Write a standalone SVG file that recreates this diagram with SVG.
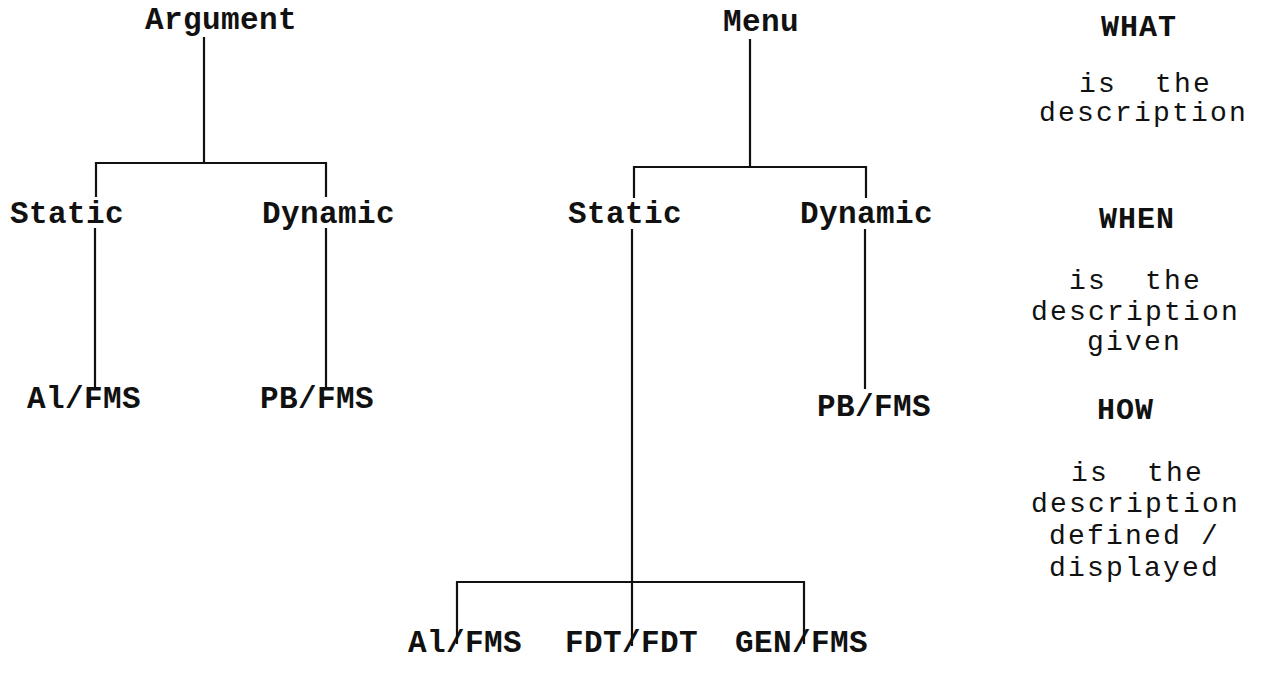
<svg xmlns="http://www.w3.org/2000/svg" width="1267" height="677" viewBox="0 0 1267 677">
<style>
.lbl{font-family:"Liberation Mono","DejaVu Sans Mono",monospace;font-size:31px;font-weight:bold;letter-spacing:0.4px;fill:#111}
.hd{font-family:"Liberation Mono","DejaVu Sans Mono",monospace;font-size:30px;font-weight:bold;letter-spacing:1px;fill:#111}
.ds{font-family:"Liberation Mono","DejaVu Sans Mono",monospace;font-size:28px;letter-spacing:2.2px;fill:#111;white-space:pre}
.ln{stroke:#111;stroke-width:2.2;fill:none;stroke-linecap:square}
</style>
<rect width="1267" height="677" fill="#fff"/>
<g id="connectors" class="ln">
<path d="M204 38V163M96 163H326M96 163V196M326 163V196M95 229V386M326 229V386"/>
<path d="M750 40V167M634 167H866M634 167V197M866 167V197M632 230V645M457 582H804M457 582V643M804 582V643M865 230V388"/>
</g>
<g id="argument"><text class="lbl" x="145" y="29">Argument</text></g>
<g id="arg-static"><text class="lbl" x="10" y="223">Static</text></g>
<g id="arg-dynamic"><text class="lbl" x="262" y="223">Dynamic</text></g>
<g id="arg-al-fms"><text class="lbl" x="27" y="408">Al/FMS</text></g>
<g id="arg-pb-fms"><text class="lbl" x="260" y="408">PB/FMS</text></g>
<g id="menu"><text class="lbl" x="723" y="31">Menu</text></g>
<g id="menu-static"><text class="lbl" x="568" y="223">Static</text></g>
<g id="menu-dynamic"><text class="lbl" x="800" y="223">Dynamic</text></g>
<g id="menu-pb-fms"><text class="lbl" x="817" y="416">PB/FMS</text></g>
<g id="menu-al-fms"><text class="lbl" x="408" y="652">Al/FMS</text></g>
<g id="menu-fdt-fdt"><text class="lbl" x="565" y="652">FDT/FDT</text></g>
<g id="menu-gen-fms"><text class="lbl" x="735" y="652">GEN/FMS</text></g>
<g id="legend-what">
<text class="hd" x="1101" y="36">WHAT</text>
<text class="ds" x="1079" y="92">is  the</text>
<text class="ds" x="1039" y="121">description</text>
</g>
<g id="legend-when">
<text class="hd" x="1099" y="228">WHEN</text>
<text class="ds" x="1069" y="289">is  the</text>
<text class="ds" x="1031" y="320">description</text>
<text class="ds" x="1087" y="350">given</text>
</g>
<g id="legend-how">
<text class="hd" x="1097" y="419">HOW</text>
<text class="ds" x="1071" y="481">is  the</text>
<text class="ds" x="1031" y="512">description</text>
<text class="ds" x="1049" y="544">defined /</text>
<text class="ds" x="1049" y="576">displayed</text>
</g>
</svg>
